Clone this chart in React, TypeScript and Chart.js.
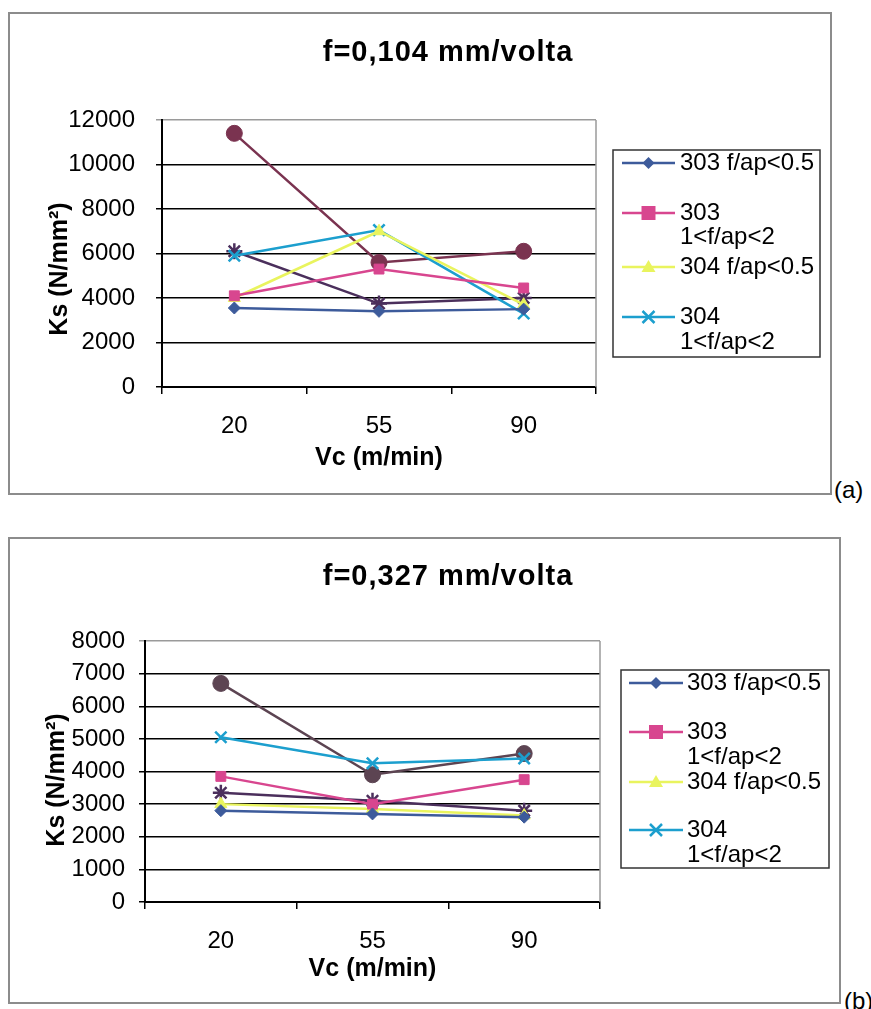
import React, { useEffect, useRef } from 'react';
import { Chart, registerables } from 'chart.js';

Chart.register(...registerables);

const FONT = "'Liberation Sans', Arial, Helvetica, sans-serif";

// ---------- data ----------
const categories = ['20', '55', '90'];
const seriesNames = ['303 f/ap<0.5', '303 1<f/ap<2', '304 f/ap<0.5', '304 1<f/ap<2', 'Série5', 'Série6'];
const legendLabels = [['303 f/ap<0.5'], ['303', '1<f/ap<2'], ['304 f/ap<0.5'], ['304', '1<f/ap<2']];

const titleA = 'f=0,104 mm/volta';
const titleB = 'f=0,327 mm/volta';
const xTitle = 'Vc (m/min)';
const yTitle = 'Ks (N/mm²)';

const yMaxA = 12000;
const yStepA = 2000;
const yMaxB = 8000;
const yStepB = 1000;

// chart (a) f = 0,104 mm/volta
const a303Low = [3550, 3400, 3500];
const a303High = [4100, 5300, 4450];
const a304Low = [4000, 7000, 3700];
const a304High = [5900, 7050, 3300];
const aSerie5 = [11400, 5600, 6100];
const aSerie6 = [6100, 3750, 4000];

// chart (b) f = 0,327 mm/volta
const b303Low = [2800, 2700, 2600];
const b303High = [3850, 3000, 3750];
const b304Low = [3000, 2850, 2650];
const b304High = [5050, 4250, 4400];
const bSerie5 = [6700, 3900, 4550];
const bSerie6 = [3350, 3100, 2800];

// ---------- styles ----------
const colors = ['#3d5b9b', '#d8468f', '#e9f45e', '#1c9fce', '#6e3550', '#4b2f5c'];
const pointStyles = ['rectRot', 'rect', 'triangle', 'crossRot', 'circle', 'star'];
const pointRadii = [6, 7, 7, 8, 8, 8];

function makeDatasets(values: number[][], serie5Color: string) {
  return values.map((v, i) => {
    const c = i === 4 ? serie5Color : colors[i];
    const cross = pointStyles[i] === 'crossRot' || pointStyles[i] === 'star';
    return {
      label: seriesNames[i],
      data: v,
      borderColor: c,
      backgroundColor: c,
      borderWidth: 2.5,
      pointStyle: pointStyles[i],
      pointRadius: pointRadii[i],
      pointBackgroundColor: c,
      pointBorderColor: c,
      pointBorderWidth: cross ? 2.5 : 1,
      tension: 0,
    };
  });
}

function drawMarker(ctx: CanvasRenderingContext2D, style: string, x: number, y: number, color: string) {
  ctx.save();
  ctx.fillStyle = color;
  ctx.strokeStyle = color;
  ctx.lineWidth = 2.5;
  ctx.beginPath();
  if (style === 'rectRot') {
    const r = 6;
    ctx.moveTo(x, y - r); ctx.lineTo(x + r, y); ctx.lineTo(x, y + r); ctx.lineTo(x - r, y); ctx.closePath(); ctx.fill();
  } else if (style === 'rect') {
    const r = 7;
    ctx.rect(x - r, y - r, 2 * r, 2 * r); ctx.fill();
  } else if (style === 'triangle') {
    const r = 7;
    ctx.moveTo(x, y - r); ctx.lineTo(x + r, y + r * 0.7); ctx.lineTo(x - r, y + r * 0.7); ctx.closePath(); ctx.fill();
  } else if (style === 'crossRot') {
    const r = 6;
    ctx.moveTo(x - r, y - r); ctx.lineTo(x + r, y + r); ctx.moveTo(x + r, y - r); ctx.lineTo(x - r, y + r); ctx.stroke();
  }
  ctx.restore();
}

interface Geo {
  title: string;
  titleX: number; titleY: number;
  yTitleX: number; yTitleY: number;
  box: [number, number, number, number];
  lineX1: number; lineX2: number; textX: number;
  rows: number[][];
}

function decorPlugin(g: Geo) {
  return {
    id: 'decor',
    beforeDatasetsDraw(chart: any) {
      const { ctx, chartArea: ca } = chart;
      ctx.save();
      ctx.strokeStyle = '#9a9a9a';
      ctx.lineWidth = 1.5;
      ctx.beginPath();
      ctx.moveTo(ca.right, ca.top);
      ctx.lineTo(ca.right, ca.bottom);
      ctx.stroke();
      ctx.restore();
    },
    afterDraw(chart: any) {
      const { ctx } = chart;
      // chart title
      ctx.save();
      ctx.font = `bold 29px ${FONT}`;
      (ctx as any).letterSpacing = '1px';
      ctx.textAlign = 'center';
      ctx.textBaseline = 'middle';
      ctx.fillStyle = '#000';
      ctx.fillText(g.title, g.titleX, g.titleY);
      ctx.restore();
      // y axis title
      ctx.save();
      ctx.translate(g.yTitleX, g.yTitleY);
      ctx.rotate(-Math.PI / 2);
      ctx.font = `bold 25px ${FONT}`;
      ctx.textAlign = 'center';
      ctx.textBaseline = 'middle';
      ctx.fillStyle = '#000';
      ctx.fillText(yTitle, 0, 0);
      ctx.restore();
      // legend
      ctx.save();
      const [bx1, by1, bx2, by2] = g.box;
      ctx.fillStyle = '#fff';
      ctx.fillRect(bx1, by1, bx2 - bx1, by2 - by1);
      ctx.strokeStyle = '#333';
      ctx.lineWidth = 1.5;
      ctx.strokeRect(bx1, by1, bx2 - bx1, by2 - by1);
      ctx.font = `24px ${FONT}`;
      ctx.textAlign = 'left';
      ctx.textBaseline = 'middle';
      legendLabels.forEach((lines, i) => {
        const ys = g.rows[i];
        ctx.strokeStyle = colors[i];
        ctx.lineWidth = 2.5;
        ctx.beginPath();
        ctx.moveTo(g.lineX1, ys[0]);
        ctx.lineTo(g.lineX2, ys[0]);
        ctx.stroke();
        drawMarker(ctx, pointStyles[i], (g.lineX1 + g.lineX2) / 2, ys[0], colors[i]);
        ctx.fillStyle = '#000';
        lines.forEach((t, k) => ctx.fillText(t, g.textX, ys[k]));
      });
      ctx.restore();
    },
  };
}

interface Cfg {
  padTop: number;
  values: number[][];
  serie5Color: string;
  yMax: number; yStep: number;
  yWidth: number; yTickPad: number;
  xHeight: number; xTickPad: number; xTitlePad: number;
  padRight: number;
  geo: Geo;
}

function buildConfig(c: Cfg): any {
  const tickFont = { family: FONT, size: 24 };
  return {
    type: 'line',
    data: { labels: categories, datasets: makeDatasets(c.values, c.serie5Color) },
    plugins: [decorPlugin(c.geo)],
    options: {
      animation: false,
      responsive: false,
      maintainAspectRatio: false,
      layout: { padding: { left: 0, right: c.padRight, top: c.padTop, bottom: 0 } },
      plugins: {
        legend: { display: false },
        tooltip: { enabled: false },
        title: { display: false },
      },
      scales: {
        x: {
          offset: true,
          grid: { offset: true, drawOnChartArea: false, drawTicks: true, tickLength: 7, color: '#000', lineWidth: 1.5 },
          border: { color: '#000', width: 2 },
          ticks: { font: tickFont, color: '#000', padding: c.xTickPad },
          title: { display: true, text: xTitle, color: '#000', font: { family: FONT, size: 25, weight: 'bold' }, padding: { top: 0, bottom: c.xTitlePad } },
          afterFit: (s: any) => { s.height = c.xHeight; },
        },
        y: {
          min: 0,
          max: c.yMax,
          ticks: {
            stepSize: c.yStep,
            font: tickFont,
            color: '#000',
            padding: c.yTickPad,
            callback: (v: any) => String(v),
          },
          grid: {
            color: (ctx: any) => (ctx.tick && ctx.tick.value === c.yMax ? '#9a9a9a' : '#000'),
            lineWidth: 1.5,
            tickLength: 6,
          },
          border: { color: '#000', width: 2 },
          afterFit: (s: any) => { s.width = c.yWidth; },
        },
      },
    },
  };
}

function ChartCanvas(props: { left: number; top: number; width: number; height: number; cfg: Cfg }) {
  const ref = useRef<HTMLCanvasElement | null>(null);
  useEffect(() => {
    if (!ref.current) return;
    const chart = new Chart(ref.current, buildConfig(props.cfg));
    return () => chart.destroy();
  }, []);
  return (
    <canvas
      ref={ref}
      width={props.width}
      height={props.height}
      style={{ position: 'absolute', left: props.left, top: props.top, width: props.width, height: props.height }}
    />
  );
}

const cfgA: Cfg = {
  padTop: 106,
  values: [a303Low, a303High, a304Low, a304High, aSerie5, aSerie6],
  serie5Color: '#7a3350',
  yMax: yMaxA, yStep: yStepA,
  yWidth: 152, yTickPad: 21,
  xHeight: 106, xTickPad: 18, xTitlePad: 20,
  padRight: 234,
  geo: {
    title: titleA,
    titleX: 438, titleY: 39,
    yTitleX: 50, yTitleY: 255,
    box: [603, 136, 810, 343],
    lineX1: 612, lineX2: 665, textX: 670,
    rows: [[149], [199, 223], [253], [303, 328]],
  },
};

const cfgB: Cfg = {
  padTop: 102,
  values: [b303Low, b303High, b304Low, b304High, bSerie5, bSerie6],
  serie5Color: '#5c4452',
  yMax: yMaxB, yStep: yStepB,
  yWidth: 135, yTickPad: 14,
  xHeight: 100, xTickPad: 18, xTitlePad: 18,
  padRight: 239,
  geo: {
    title: titleB,
    titleX: 438, titleY: 38,
    yTitleX: 47, yTitleY: 241,
    box: [611, 131, 819, 329],
    lineX1: 619, lineX2: 673, textX: 677,
    rows: [[144], [193, 218], [243], [291, 316]],
  },
};

export default function App() {
  return (
    <div style={{ position: 'absolute', left: 0, top: 0, width: 871, height: 1009, overflow: 'hidden', background: '#fff', fontFamily: FONT }}>
      <div style={{ position: 'absolute', left: 8, top: 12, width: 824, height: 483, border: '2px solid #8c8c8c', boxSizing: 'border-box' }} />
      <ChartCanvas left={10} top={14} width={820} height={479} cfg={cfgA} />
      <div style={{ position: 'absolute', left: 834, top: 476, fontSize: 24, lineHeight: '28px', color: '#000' }}>(a)</div>
      <div style={{ position: 'absolute', left: 8, top: 537, width: 833, height: 467, border: '2px solid #8c8c8c', boxSizing: 'border-box' }} />
      <ChartCanvas left={10} top={539} width={829} height={463} cfg={cfgB} />
      <div style={{ position: 'absolute', left: 844, top: 987, fontSize: 24, lineHeight: '28px', color: '#000', whiteSpace: 'nowrap' }}>(b)</div>
    </div>
  );
}
